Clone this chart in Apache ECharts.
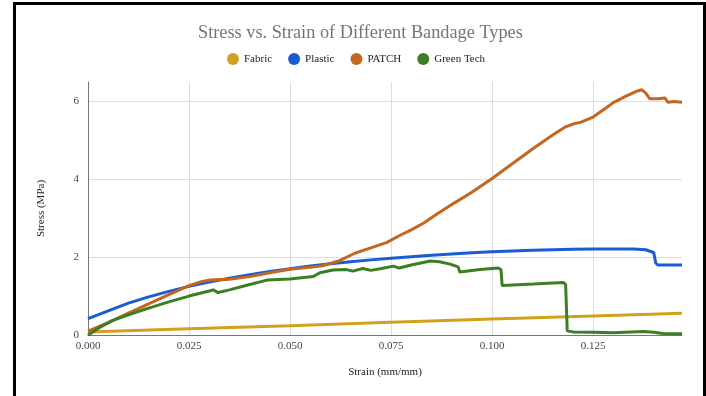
<!DOCTYPE html>
<html>
<head>
<meta charset="utf-8">
<script src="https://cdn.jsdelivr.net/npm/echarts@6/dist/echarts.min.js"></script>
<style>
  html, body { margin: 0; padding: 0; background: #fff; }
  #chart { position: absolute; left: 0; top: 0; width: 706px; height: 396px; }
  #frame { position: absolute; left: 13px; top: 2px; width: 687px; height: 393px;
           border-left: 3px solid #000; border-top: 3px solid #000; border-right: 3px solid #000;
           border-bottom: 1px solid #d8d8d8; pointer-events: none; box-sizing: content-box; }
</style>
</head>
<body>
<div id="chart"></div>
<div id="frame"></div>
<script>
// ---- Data (strain in mm/mm, stress in MPa) ----
const seriesNames = ['Fabric', 'Plastic', 'PATCH', 'Green Tech'];
const xTicks = [0, 0.025, 0.05, 0.075, 0.1, 0.125];
const yTicks = [0, 2, 4, 6];

const fabricStrain = [0, 0.025, 0.05, 0.075, 0.1, 0.125, 0.147];
const fabricStress = [0.08, 0.16, 0.24, 0.33, 0.41, 0.49, 0.56];

const plasticStrain = [0, 0.005, 0.01, 0.015, 0.02, 0.025, 0.03, 0.035, 0.04, 0.045, 0.05, 0.055, 0.06, 0.065, 0.07, 0.075, 0.08, 0.085, 0.09, 0.095, 0.1, 0.105, 0.11, 0.115, 0.12, 0.125, 0.13, 0.135, 0.138, 0.14, 0.1405, 0.141, 0.147];
const plasticStress = [0.42, 0.62, 0.82, 0.98, 1.12, 1.25, 1.36, 1.46, 1.55, 1.63, 1.70, 1.77, 1.83, 1.88, 1.93, 1.97, 2.01, 2.05, 2.08, 2.11, 2.14, 2.16, 2.18, 2.19, 2.20, 2.21, 2.21, 2.21, 2.19, 2.12, 1.85, 1.80, 1.80];

const patchStrain = [0, 0.005, 0.01, 0.015, 0.02, 0.025, 0.028, 0.03, 0.035, 0.04, 0.045, 0.05, 0.055, 0.058, 0.062, 0.066, 0.07, 0.074, 0.077, 0.08, 0.083, 0.086, 0.09, 0.095, 0.1, 0.105, 0.11, 0.115, 0.118, 0.12, 0.122, 0.125, 0.128, 0.13, 0.133, 0.136, 0.137, 0.138, 0.139, 0.141, 0.1428, 0.1435, 0.145, 0.147];
const patchStress = [0.10, 0.32, 0.56, 0.80, 1.04, 1.27, 1.37, 1.41, 1.43, 1.50, 1.60, 1.69, 1.74, 1.78, 1.90, 2.10, 2.24, 2.38, 2.55, 2.70, 2.87, 3.08, 3.35, 3.67, 4.02, 4.40, 4.78, 5.14, 5.34, 5.42, 5.47, 5.60, 5.82, 5.97, 6.13, 6.27, 6.30, 6.22, 6.07, 6.07, 6.09, 5.98, 6.00, 5.98];

const greenStrain = [0, 0.003, 0.006, 0.01, 0.015, 0.02, 0.025, 0.03, 0.031, 0.0322, 0.035, 0.0393, 0.0443, 0.05, 0.0557, 0.0574, 0.0606, 0.064, 0.0655, 0.068, 0.070, 0.0723, 0.0756, 0.077, 0.08, 0.0847, 0.087, 0.0896, 0.0916, 0.092, 0.097, 0.1015, 0.1022, 0.1025, 0.1102, 0.1176, 0.1182, 0.1186, 0.12, 0.125, 0.13, 0.1374, 0.14, 0.1423, 0.147];
const greenStress = [0.00, 0.20, 0.37, 0.52, 0.69, 0.85, 1.00, 1.13, 1.16, 1.09, 1.16, 1.28, 1.41, 1.44, 1.50, 1.60, 1.67, 1.68, 1.64, 1.71, 1.66, 1.70, 1.77, 1.72, 1.80, 1.90, 1.88, 1.82, 1.75, 1.62, 1.68, 1.72, 1.68, 1.27, 1.31, 1.35, 1.30, 0.11, 0.08, 0.07, 0.06, 0.09, 0.07, 0.04, 0.03];

const colors = ['#d2a01d', '#1a5bd6', '#c4661f', '#3b7e23'];

function zip(xs, ys) { return xs.map((x, i) => [x, ys[i]]); }

const serif = 'Liberation Serif';
const chart = echarts.init(document.getElementById('chart'), null, { renderer: 'canvas' });
chart.setOption({
  animation: false,
  backgroundColor: '#fff',
  color: colors,
  title: {
    text: 'Stress vs. Strain of Different Bandage Types',
    left: 193, top: 19,
    textStyle: { fontFamily: serif, fontSize: 18.3, fontWeight: 'normal', color: '#757575' }
  },
  legend: {
    data: seriesNames, top: 48, left: 222,
    icon: 'circle', itemWidth: 12, itemHeight: 12, itemGap: 16,
    textStyle: { fontFamily: serif, fontSize: 11, color: '#222' }
  },
  grid: { left: 88, right: 24, top: 82, bottom: 61, containLabel: false },
  xAxis: {
    type: 'value', min: 0, max: 0.147, interval: 0.025,
    name: 'Strain (mm/mm)', nameLocation: 'middle', nameGap: 32,
    nameTextStyle: { fontFamily: serif, fontSize: 11, color: '#222' },
    axisLine: { show: true, lineStyle: { color: '#777', width: 1 } },
    axisTick: { show: false },
    axisLabel: { fontFamily: serif, fontSize: 11, color: '#444', margin: 6,
      formatter: v => xTicks.some(t => Math.abs(t - v) < 1e-9) ? v.toFixed(3) : '',
      showMaxLabel: false },
    splitLine: { show: true, showMinLine: false, showMaxLine: false, lineStyle: { color: '#ddd', width: 1 } }
  },
  yAxis: {
    type: 'value', min: 0, max: 6.5, interval: 2,
    name: 'Stress (MPa)', nameLocation: 'middle', nameGap: 41, nameRotate: 90,
    nameTextStyle: { fontFamily: serif, fontSize: 11, color: '#222' },
    axisLine: { show: true, lineStyle: { color: '#777', width: 1 } },
    axisTick: { show: false },
    axisLabel: { fontFamily: serif, fontSize: 11, color: '#444', margin: 9,
      formatter: v => yTicks.includes(v) ? String(v) : '', showMaxLabel: false },
    splitLine: { show: true, showMinLine: false, showMaxLine: false, lineStyle: { color: '#ddd', width: 1 } }
  },
  series: [
    { name: 'Fabric', data: zip(fabricStrain, fabricStress) },
    { name: 'Plastic', data: zip(plasticStrain, plasticStress) },
    { name: 'PATCH', data: zip(patchStrain, patchStress) },
    { name: 'Green Tech', data: zip(greenStrain, greenStress) }
  ].map(s => Object.assign({ type: 'line', showSymbol: false, symbol: 'none', lineStyle: { width: 3 }, z: 2 }, s))
});
</script>
</body>
</html>
